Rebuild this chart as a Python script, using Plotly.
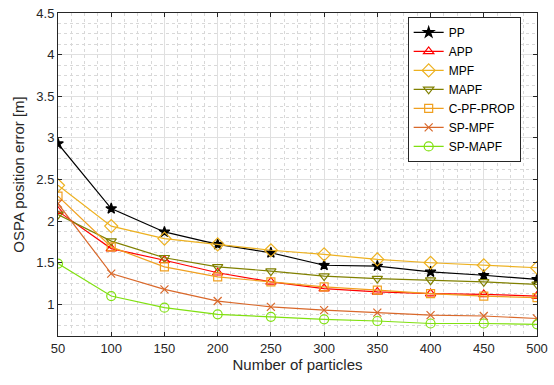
import plotly.graph_objects as go

particles = [50, 100, 150, 200, 250, 300, 350, 400, 450, 500]
pp = [2.93, 2.15, 1.87, 1.72, 1.62, 1.47, 1.46, 1.39, 1.35, 1.30]
app = [2.12, 1.67, 1.53, 1.38, 1.27, 1.19, 1.15, 1.13, 1.12, 1.10]
mpf = [2.43, 1.94, 1.79, 1.72, 1.65, 1.60, 1.54, 1.50, 1.47, 1.44]
mapf = [2.08, 1.76, 1.56, 1.45, 1.40, 1.34, 1.31, 1.29, 1.27, 1.24]
cpf_prop = [2.30, 1.69, 1.45, 1.33, 1.27, 1.21, 1.17, 1.13, 1.10, 1.08]
sp_mpf = [2.21, 1.37, 1.18, 1.04, 0.97, 0.93, 0.90, 0.87, 0.86, 0.83]
sp_mapf = [1.49, 1.10, 0.96, 0.88, 0.85, 0.82, 0.80, 0.77, 0.77, 0.76]
y_ticks = [1, 1.5, 2, 2.5, 3, 3.5, 4, 4.5]
y_tick_labels = ["1", "1.5", "2", "2.5", "3", "3.5", "4", "4.5"]

series = [
    ("PP", pp, "#000000", "star", 8),
    ("APP", app, "#FF0000", "triangle-up-open", 9),
    ("MPF", mpf, "#EDB120", "diamond-open", 10),
    ("MAPF", mapf, "#808000", "triangle-down-open", 9),
    ("C-PF-PROP", cpf_prop, "#F0A020", "square-open", 8),
    ("SP-MPF", sp_mpf, "#D9682A", "x-thin-open", 8),
    ("SP-MAPF", sp_mapf, "#80E010", "circle-open", 9),
]

fig = go.Figure()
for name, vals, color, sym, size in series:
    fig.add_trace(go.Scatter(
        x=particles, y=vals, name=name, mode="lines+markers",
        line=dict(color=color, width=1.2),
        marker=dict(symbol=sym, size=size, color=color,
                    line=dict(color=color, width=1.2)),
    ))

FONT = "Liberation Sans, Arial, sans-serif"
axis_common = dict(
    showline=True, linecolor="#262626", linewidth=1, mirror="ticks",
    ticks="inside", ticklen=4, tickcolor="#262626",
    showgrid=True, gridcolor="#E0E0E0", gridwidth=1,
    zeroline=False, ticklabeloverflow="allow",
    tickfont=dict(family=FONT, size=13, color="#262626"),
)

fig.update_xaxes(
    range=[50, 500], tickmode="array", tickvals=particles,
    title=dict(text="Number of particles", standoff=4,
               font=dict(family=FONT, size=15, color="#262626")),
    minor=dict(tick0=50, dtick=12.5, showgrid=True, gridcolor="#D8D8D8", griddash="dot", ticks=""),
    **axis_common,
)
fig.update_yaxes(
    range=[0.62, 4.5], tickmode="array",
    tickvals=y_ticks, ticktext=y_tick_labels,
    title=dict(text="OSPA position error [m]", standoff=8,
               font=dict(family=FONT, size=15, color="#262626")),
    minor=dict(tick0=0, dtick=0.125, showgrid=True, gridcolor="#D8D8D8", griddash="dot", ticks=""),
    **axis_common,
)

fig.update_layout(
    width=554, height=385,
    margin=dict(l=58, r=10, t=6, b=49),
    plot_bgcolor="white", paper_bgcolor="white",
    font=dict(family=FONT, color="#262626"),
    legend=dict(
        x=0.73, y=0.988, xanchor="left", yanchor="top",
        bgcolor="white", bordercolor="#262626", borderwidth=1,
        font=dict(family=FONT, size=12, color="#000000"),
        tracegroupgap=0, itemwidth=30,
    ),
)

fig.write_html("out.html")
